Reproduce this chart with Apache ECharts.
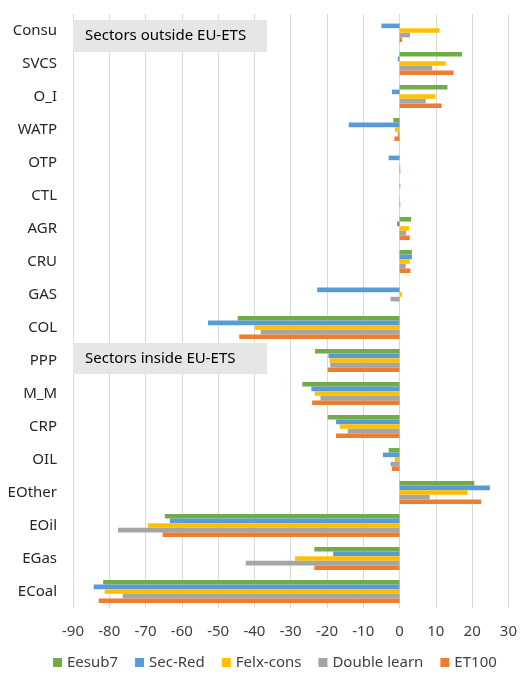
<!DOCTYPE html>
<html><head><meta charset="utf-8">
<script src="https://cdn.jsdelivr.net/npm/echarts@6/dist/echarts.min.js"></script>
<style>html,body{margin:0;padding:0;background:#fff}#c{width:520px;height:673px}</style>
</head><body><div id="c"></div>
<script>
const categories = ['Consu','SVCS','O_I','WATP','OTP','CTL','AGR','CRU','GAS','COL','PPP','M_M','CRP','OIL','EOther','EOil','EGas','ECoal'];
const seriesNames = ['Eesub7','Sec-Red','Felx-cons','Double learn','ET100'];
const eesub7    = [0, 17.2, 13.2, -1.7, 0, 0.2, 3.2, 3.4, 0, -44.6, -23.3, -26.8, -19.8, -3.0, 20.6, -64.7, -23.5, -81.7];
const secRed    = [-5.0, -0.5, -2.1, -14.0, -3.0, 0, -0.7, 3.4, -22.7, -52.8, -19.6, -24.3, -17.5, -4.6, 24.9, -63.3, -18.3, -84.3];
const felxCons  = [11.0, 12.7, 9.9, -1.3, 0, 0, 2.6, 2.8, 0.7, -39.9, -19.3, -23.4, -16.5, -1.3, 18.7, -69.4, -28.8, -81.3];
const doubleLrn = [2.9, 9.0, 7.2, -0.5, 0.2, 0.1, 1.8, 1.7, -2.5, -38.3, -19.1, -21.8, -14.3, -2.5, 8.3, -77.6, -42.4, -76.3];
const et100     = [0.7, 14.9, 11.6, -1.4, 0.2, 0.2, 2.8, 3.0, 0, -44.2, -19.8, -24.1, -17.5, -2.1, 22.5, -65.3, -23.5, -82.9];
const colors = ['#70AD47','#5B9BD5','#FFC000','#A5A5A5','#ED7D31'];
const allData = [eesub7, secRed, felxCons, doubleLrn, et100];

const chart = echarts.init(document.getElementById('c'));
const font = 'Noto Sans, DejaVu Sans, sans-serif';
chart.setOption({
  animation: false,
  color: colors,
  grid: {left: 73, right: 10, top: 14, bottom: 65, containLabel: false},
  xAxis: {
    type: 'value', min: -90, max: 30, interval: 10,
    axisLine: {show: false}, axisTick: {show: false},
    splitLine: {lineStyle: {color: '#d9d9d9', width: 1}},
    axisLabel: {color: '#404040', fontSize: 15, fontFamily: font, margin: 16}
  },
  yAxis: {
    type: 'category', data: categories, inverse: true,
    axisLine: {show: false}, axisTick: {show: false},
    axisLabel: {color: '#262626', fontSize: 15, fontFamily: font, margin: 16}
  },
  legend: {
    bottom: -2, left: 48, itemWidth: 9, itemHeight: 9, itemGap: 17,
    icon: 'rect',
    textStyle: {color: '#404040', fontSize: 15, fontFamily: font}
  },
  graphic: [
    {type: 'group', left: 73, top: 20, z: 100, children: [
      {type: 'rect', z: 100, shape: {x: 0, y: 0, width: 194, height: 32}, style: {fill: '#e7e6e6'}},
      {type: 'text', z: 101, x: 12, y: 16, style: {text: 'Sectors outside EU-ETS', fill: '#000', fontSize: 15, fontFamily: font, verticalAlign: 'middle'}}
    ]},
    {type: 'group', left: 73, top: 343, z: 100, children: [
      {type: 'rect', z: 100, shape: {x: 0, y: 0, width: 194, height: 31}, style: {fill: '#e7e6e6'}},
      {type: 'text', z: 101, x: 12, y: 15.5, style: {text: 'Sectors inside EU-ETS', fill: '#000', fontSize: 15, fontFamily: font, verticalAlign: 'middle'}}
    ]}
  ],
  series: seriesNames.map((n, i) => ({
    name: n, type: 'bar', data: allData[i],
    barGap: '0%', barCategoryGap: '30%'
  }))
});
</script></body></html>
